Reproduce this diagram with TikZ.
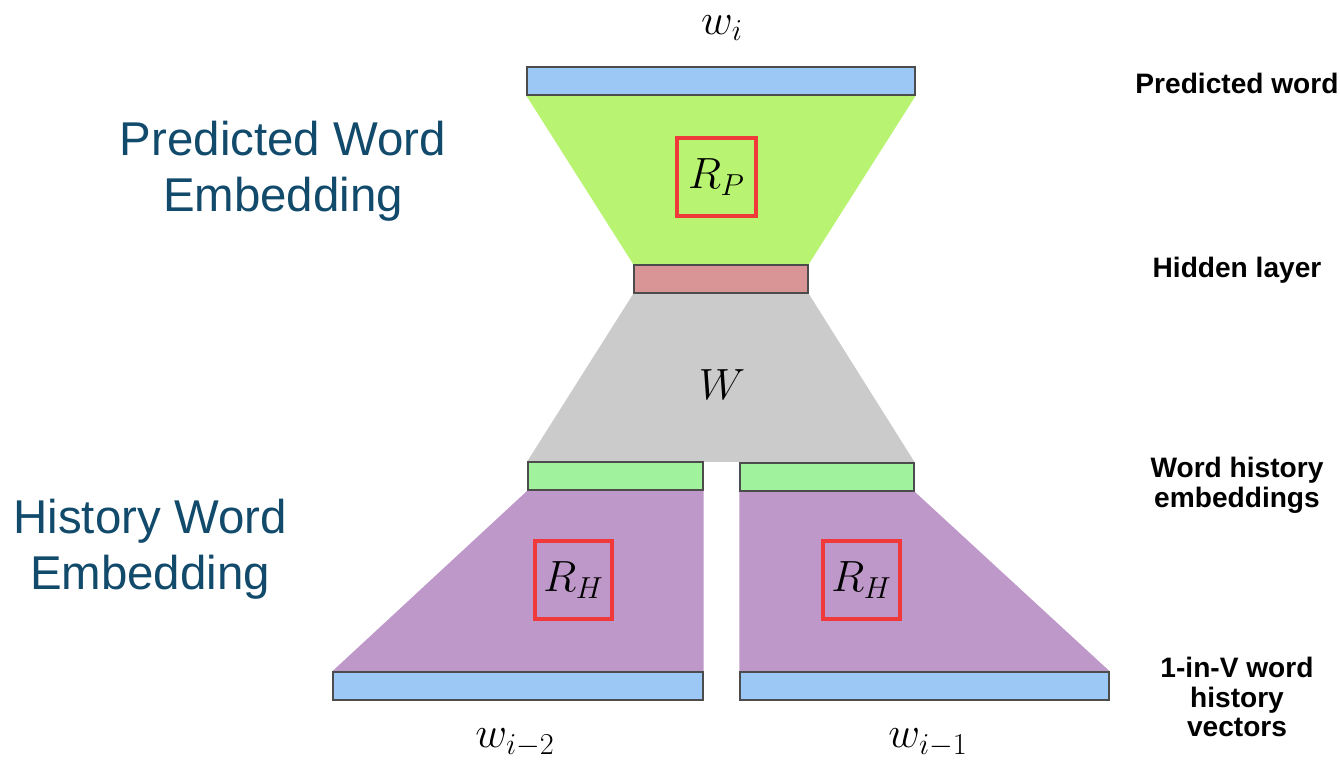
\documentclass[tikz,border=0pt]{standalone}
\usepackage{fontspec}
\setmainfont{Liberation Sans}
\usepackage{tikz}
\usetikzlibrary{positioning, calc, backgrounds}
\definecolor{barblue}{RGB}{155,200,245}
\definecolor{topgreen}{RGB}{184,244,113}
\definecolor{hidpink}{RGB}{217,149,149}
\definecolor{midgray}{RGB}{203,203,203}
\definecolor{embgreen}{RGB}{160,242,156}
\definecolor{histpurple}{RGB}{190,152,200}
\definecolor{boxred}{RGB}{240,58,58}
\definecolor{teal}{RGB}{17,74,107}
\tikzset{
  bar/.style = {rectangle, draw=black!70, line width=0.8pt, inner sep=0pt,
    minimum height=0.56cm},
  rbox/.style = {rectangle, draw=boxred, line width=2.2pt, inner sep=0pt,
    minimum width=1.56cm, minimum height=1.56cm},
  mathlbl/.style = {font=\fontsize{24}{28}\selectfont},
  sidelbl/.style = {font=\fontsize{16}{17}\selectfont\bfseries, align=center},
  biglbl/.style = {font=\fontsize{27}{32}\selectfont, text=teal, align=center},
}

\begin{document}
\begin{tikzpicture}[x=0.02cm, y=-0.02cm]
  \useasboundingbox (0,0) rectangle (1340,766);

  % Bars
  \node[bar, fill=barblue, minimum width=7.76cm] (pred) at (721,81) {};
  \node[bar, fill=hidpink, minimum width=3.48cm] (hid) at (721,279) {};
  \node[bar, fill=embgreen, minimum width=3.5cm] (embL) at (615.5,476) {};
  \node[bar, fill=embgreen, minimum width=3.48cm] (embR) at (827,477) {};
  \node[bar, fill=barblue, minimum width=7.4cm] (inL) at (518,686) {};
  \node[bar, fill=barblue, minimum width=7.38cm] (inR) at (924.5,686) {};

  % Projections
  \begin{pgfonlayer}{background}
    \fill[topgreen] (pred.south west) -- (pred.south east) -- (hid.north east) -- (hid.north west) -- cycle;
    \fill[midgray] (hid.south west) -- (hid.south east) -- (embR.north east) -- (embL.north west) -- cycle;
    \fill[histpurple] (embL.south west) -- (embL.south east) -- (inL.north east) -- (inL.north west) -- cycle;
    \fill[histpurple] (embR.south west) -- (embR.south east) -- (inR.north east) -- (inR.north west) -- cycle;
  \end{pgfonlayer}

  % Weight matrices
  \node[rbox, minimum width=1.58cm] (rp) at (716.5,177) {};
  \node[mathlbl] at (rp) {$R_P$};
  \node[rbox, minimum width=1.54cm] (rhL) at (573.5,580) {};
  \node[mathlbl] at (rhL) {$R_H$};
  \node[rbox, minimum width=1.54cm] (rhR) at (861.5,580) {};
  \node[mathlbl] at (rhR) {$R_H$};
  \node[mathlbl] (wmat) at (722,385) {$W$};

  % Words
  \node[mathlbl] (wi) at (722,28) {$w_i$};
  \node[mathlbl] (wi2) at (515,743) {$w_{i-2}$};
  \node[mathlbl] (wi1) at (928,743) {$w_{i-1}$};

  % Layer names
  \node[sidelbl] (lpred) at (1237,83) {Predicted word};
  \node[sidelbl] (lhid) at (1237,270) {Hidden layer};
  \node[sidelbl] (lemb) at (1237,485) {Word history\\embeddings};
  \node[sidelbl] (lin) at (1237,697) {1-in-V word\\history\\vectors};

  \node[biglbl] (pwe) at (283,171) {Predicted Word\\Embedding};
  \node[biglbl] (hwe) at (150,549) {History Word\\Embedding};

\end{tikzpicture}
\end{document}
